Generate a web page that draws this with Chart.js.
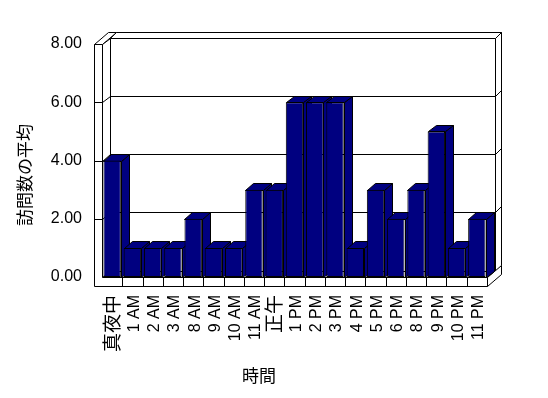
<!DOCTYPE html>
<html><head><meta charset="utf-8">
<script src="https://cdn.jsdelivr.net/npm/chart.js@4"></script>
<style>html,body{margin:0;padding:0;background:#fff}canvas{display:block}</style>
</head><body>
<canvas id="c" width="548" height="398"></canvas>
<script>
const categories = ['真夜中','1 AM','2 AM','3 AM','8 AM','9 AM','10 AM','11 AM','正午','1 PM','2 PM','3 PM','4 PM','5 PM','6 PM','8 PM','9 PM','10 PM','11 PM'];
const visits = [4,1,1,1,2,1,1,3,3,6,6,6,1,3,2,3,5,1,2];
const yTickValues = [0,2,4,6,8];
const xTitle = '時間';
const yTitle = '訪問数の平均';

const FONT = '"Liberation Sans", Arial, "Noto Sans CJK JP", sans-serif';
const BAR = '#000080';
const DEP = {x: 8, y: -6.5};   // inner depth of plot box
const THK = {x: 6, y: -6};     // back wall thickness
const WALL = 8;                // left wall front thickness
const FLOOR = 9;               // floor front thickness

function P(x, y) { return [Math.round(x) + 0.5, Math.round(y) + 0.5]; }
function poly(ctx, pts, fill) {
  ctx.beginPath();
  pts.forEach((p, i) => { const q = P(p[0], p[1]); i ? ctx.lineTo(q[0], q[1]) : ctx.moveTo(q[0], q[1]); });
  ctx.closePath();
  if (fill) { ctx.fillStyle = fill; ctx.fill(); }
  ctx.stroke();
}
function line(ctx, a, b) {
  const p = P(a[0], a[1]), q = P(b[0], b[1]);
  ctx.beginPath(); ctx.moveTo(p[0], p[1]); ctx.lineTo(q[0], q[1]); ctx.stroke();
}

const box3d = {
  id: 'box3d',
  beforeDatasetsDraw(chart) {
    const ctx = chart.ctx, ys = chart.scales.y, xs = chart.scales.x;
    const L = xs.left, R = xs.right, T0 = ys.getPixelForValue(yTickValues[yTickValues.length - 1]), B = ys.getPixelForValue(0);
    const bx = DEP.x + THK.x, by = DEP.y + THK.y;
    ctx.save();
    ctx.lineWidth = 1; ctx.strokeStyle = '#000';
    // back wall top face
    poly(ctx, [[L + DEP.x, T0 + DEP.y], [R + DEP.x, T0 + DEP.y], [R + bx, T0 + by], [L + bx, T0 + by]], '#fff');
    // back wall right face
    poly(ctx, [[R + DEP.x, T0 + DEP.y], [R + bx, T0 + by], [R + bx, B + by], [R + DEP.x, B + DEP.y]], '#fff');
    // back wall inner face
    poly(ctx, [[L + DEP.x, T0 + DEP.y], [R + DEP.x, T0 + DEP.y], [R + DEP.x, B + DEP.y], [L + DEP.x, B + DEP.y]], '#fff');
    yTickValues.forEach(v => {
      if (v === 0 || v === yTickValues[yTickValues.length - 1]) return;
      const y = ys.getPixelForValue(v);
      line(ctx, [L + DEP.x, y + DEP.y], [R + DEP.x, y + DEP.y]);
      line(ctx, [R + DEP.x, y + DEP.y], [R + bx, y + by]);
    });
    // floor top face
    poly(ctx, [[L, B], [R, B], [R + DEP.x, B + DEP.y], [L + DEP.x, B + DEP.y]], '#fff');
    // floor right face
    poly(ctx, [[R, B], [R + bx, B + by], [R + bx, B + by + FLOOR], [R, B + FLOOR]], '#fff');
    // left wall top face
    poly(ctx, [[L - WALL, T0], [L, T0], [L + bx, T0 + by], [L - WALL + bx, T0 + by]], '#fff');
    // left wall inner face
    poly(ctx, [[L, T0], [L + DEP.x, T0 + DEP.y], [L + DEP.x, B + DEP.y], [L, B]], '#fff');
    // left wall front + floor front
    poly(ctx, [[L - WALL, T0], [L, T0], [L, B], [R, B], [R, B + FLOOR], [L - WALL, B + FLOOR]], '#fff');
    yTickValues.forEach(v => {
      if (v === 0 || v === yTickValues[yTickValues.length - 1]) return;
      const y = ys.getPixelForValue(v);
      line(ctx, [L - WALL, y], [L, y]);
      line(ctx, [L, y], [L + DEP.x, y + DEP.y]);
    });
    const n = categories.length, w = (R - L) / n;
    for (let k = 1; k < n; k++) line(ctx, [L + k * w, B], [L + k * w, B + FLOOR]);
    // bar side and top faces
    const meta = chart.getDatasetMeta(0);
    meta.data.forEach(bar => {
      const p = bar.getProps(['x', 'y', 'base', 'width'], true);
      const x1 = p.x - p.width / 2, x2 = p.x + p.width / 2, yt = p.y, yb = p.base;
      poly(ctx, [[x2, yt], [x2 + DEP.x, yt + DEP.y], [x2 + DEP.x, yb + DEP.y], [x2, yb]], BAR);
      poly(ctx, [[x1, yt], [x2, yt], [x2 + DEP.x, yt + DEP.y], [x1 + DEP.x, yt + DEP.y]], BAR);
    });
    ctx.restore();
  },
  afterDraw(chart) {
    const ctx = chart.ctx;
    ctx.save();
    ctx.fillStyle = '#000';
    ctx.font = '17px ' + FONT;
    ctx.textAlign = 'center'; ctx.textBaseline = 'middle';
    ctx.fillText(chart.options.scales.x.title.text, 259, 377);
    ctx.translate(26, 175); ctx.rotate(-Math.PI / 2);
    ctx.fillText(chart.options.scales.y.title.text, 0, 0);
    ctx.restore();
  }
};

new Chart(document.getElementById('c'), {
  type: 'bar',
  data: {
    labels: categories,
    datasets: [{
      data: visits,
      backgroundColor: BAR,
      borderColor: '#000',
      borderWidth: 1,
      borderSkipped: false,
      categoryPercentage: 1,
      barPercentage: 0.86
    }]
  },
  options: {
    responsive: false,
    animation: false,
    devicePixelRatio: 1,
    layout: { padding: { left: 14, right: 61, top: 44, bottom: 10 } },
    plugins: { legend: { display: false }, tooltip: { enabled: false } },
    scales: {
      x: {
        grid: { display: false, drawTicks: false, tickLength: 0 },
        border: { display: false },
        title: { display: false, text: xTitle },
        ticks: {
          autoSkip: false, minRotation: 90, maxRotation: 90, padding: 18, labelOffset: 2, color: '#000',
          font: (c) => ({ family: FONT, size: /[^\x00-\x7F]/.test(categories[c.index] || '') ? 19 : 16 })
        },
        afterFit: (s) => { s.height = 111; }
      },
      y: {
        min: 0, max: 8,
        grid: { display: false, drawTicks: false, tickLength: 0 },
        border: { display: false },
        title: { display: false, text: yTitle },
        ticks: { stepSize: 2, padding: 20, color: '#000', font: { family: FONT, size: 16 },
                 callback: (v) => Number(v).toFixed(2) },
        afterFit: (s) => { s.width = 88; }
      }
    }
  },
  plugins: [box3d]
});
</script>
</body></html>
